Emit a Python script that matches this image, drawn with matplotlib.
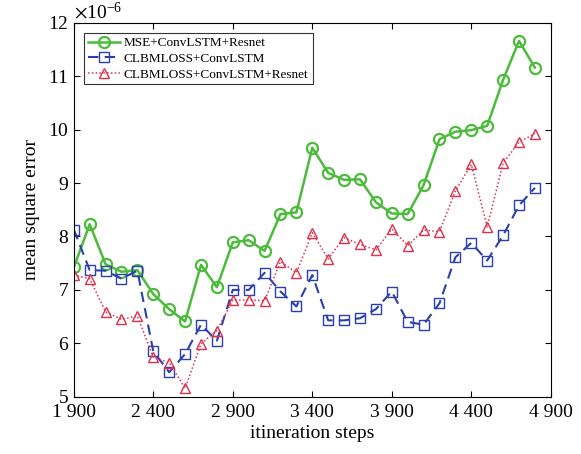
import numpy as np
import matplotlib
matplotlib.use('Agg')
import matplotlib.pyplot as plt

plt.rcParams['font.family'] = 'Liberation Serif'
plt.rcParams['mathtext.fontset'] = 'stix'

steps = np.arange(1900, 4801, 100)

mse_convlstm_resnet = [7.42, 8.23, 7.48, 7.34, 7.37, 6.92, 6.64, 6.41, 7.47, 7.05,
                       7.89, 7.93, 7.73, 8.42, 8.45, 9.66, 9.19, 9.06, 9.07, 8.64,
                       8.43, 8.42, 8.96, 9.82, 9.96, 9.99, 10.07, 10.93, 11.66, 11.16]
clbm_convlstm = [8.13, 7.37, 7.36, 7.21, 7.36, 5.85, 5.46, 5.80, 6.35, 6.05,
                 7.00, 7.00, 7.32, 6.97, 6.69, 7.28, 6.43, 6.43, 6.47, 6.64,
                 6.97, 6.40, 6.35, 6.75, 7.61, 7.88, 7.55, 8.02, 8.58, 8.91]
clbm_convlstm_resnet = [7.28, 7.21, 6.59, 6.45, 6.51, 5.74, 5.64, 5.16, 5.99, 6.24,
                        6.81, 6.81, 6.80, 7.53, 7.32, 8.07, 7.58, 7.98, 7.85, 7.75,
                        8.14, 7.83, 8.12, 8.09, 8.85, 9.35, 8.18, 9.37, 9.77, 9.92]

x_ticks = [1900, 2400, 2900, 3400, 3900, 4400, 4900]
x_tick_labels = ['1 900', '2 400', '2 900', '3 400', '3 900', '4 400', '4 900']
scale = 1e-6

fig = plt.figure(figsize=(5.81, 4.54), dpi=100)
ax = fig.add_axes([0.127, 0.126, 0.821, 0.824])

ax.plot(steps, np.array(mse_convlstm_resnet) * scale, color='#4cbb3c', linewidth=1.8,
        marker='o', markersize=8, markerfacecolor='none', markeredgewidth=1.6,
        label='MSE+ConvLSTM+Resnet')
ax.plot(steps, np.array(clbm_convlstm) * scale, color='#2b3fae', linewidth=1.5,
        linestyle=(0, (5, 3)), marker='s', markersize=6.5, markerfacecolor='none',
        markeredgewidth=1.0, label='CLBMLOSS+ConvLSTM')
ax.plot(steps, np.array(clbm_convlstm_resnet) * scale, color='#e0304a', linewidth=1.1,
        linestyle=(0, (1, 1.5)), marker='^', markersize=7.5, markerfacecolor='none',
        markeredgewidth=1.0, label='CLBMLOSS+ConvLSTM+Resnet')

ax.set_xlim(1900, 4900)
ax.set_ylim(5 * scale, 12 * scale)
ax.set_xticks(x_ticks)
ax.set_xticklabels(x_tick_labels)
ax.set_yticks(np.arange(5, 13) * scale)
ax.ticklabel_format(axis='y', style='sci', scilimits=(-6, -6), useMathText=True)
ax.yaxis.get_offset_text().set_fontsize(14)

ax.tick_params(direction='in', top=True, right=True, labelsize=14, length=4)
ax.tick_params(axis='x', pad=5)
ax.set_xlabel('itineration steps', fontsize=14, labelpad=3)
ax.set_ylabel('mean square error', fontsize=14, labelpad=6)

leg = ax.legend(loc='upper left', fontsize=9.5, frameon=True, fancybox=False,
                edgecolor='black', handlelength=2.4, handletextpad=0.3,
                borderaxespad=0.8, labelspacing=0.25, borderpad=0.3)
leg.get_frame().set_linewidth(0.8)

fig.savefig('out.png', dpi=100)
